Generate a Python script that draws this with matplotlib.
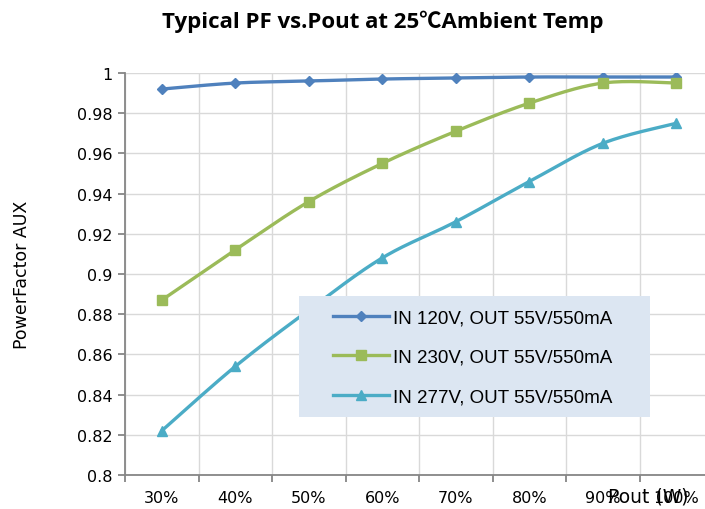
import numpy as np
import matplotlib
matplotlib.use("Agg")
import matplotlib.pyplot as plt
from matplotlib.lines import Line2D
from matplotlib.patches import Rectangle

categories = ["30%", "40%", "50%", "60%", "70%", "80%", "90%", "100%"]
pf_120 = [0.992, 0.995, 0.996, 0.997, 0.9975, 0.998, 0.998, 0.998]
pf_230 = [0.887, 0.912, 0.936, 0.955, 0.971, 0.985, 0.995, 0.995]
pf_277 = [0.822, 0.854, 0.882, 0.908, 0.926, 0.946, 0.965, 0.975]
labels = ["IN 120V, OUT 55V/550mA", "IN 230V, OUT 55V/550mA", "IN 277V, OUT 55V/550mA"]
colors = ["#4F81BD", "#9BBB59", "#4BACC6"]
markers = ["D", "s", "^"]
msizes = [5, 7, 7]


def smooth(x, y, n=30, t=0.5):
    x = np.asarray(x, float); y = np.asarray(y, float)
    px = np.concatenate([[x[0]], x, [x[-1]]])
    py = np.concatenate([[y[0]], y, [y[-1]]])
    xs, ys = [], []
    for i in range(1, len(px) - 2):
        p0, p1, p2, p3 = [np.array([px[j], py[j]]) for j in (i - 1, i, i + 1, i + 2)]
        c1 = p1 + (p2 - p0) * t / 3
        c2 = p2 - (p3 - p1) * t / 3
        s = np.linspace(0, 1, n)[:, None]
        b = (1 - s) ** 3 * p1 + 3 * (1 - s) ** 2 * s * c1 + 3 * (1 - s) * s ** 2 * c2 + s ** 3 * p2
        xs.append(b[:, 0]); ys.append(b[:, 1])
    return np.concatenate(xs), np.concatenate(ys)


fig = plt.figure(figsize=(7.05, 5.1), dpi=100)
ax_w = 713 - 125
ax_h = 476 - 74
ax = fig.add_axes([125 / 705, 1 - 476 / 510, ax_w / 705, ax_h / 510])

x = np.arange(len(categories))
handles = []
for data, c, m, ms, lab in zip([pf_120, pf_230, pf_277], colors, markers, msizes, labels):
    sx, sy = smooth(x, data)
    ax.plot(sx, sy, color=c, lw=2.4, zorder=3, solid_capstyle="round")
    ax.plot(x, data, ls="none", marker=m, color=c, ms=ms, zorder=4)
    handles.append(Line2D([0], [0], color=c, lw=2.4, marker=m, ms=ms, label=lab))

ax.set_xlim(-0.5, len(categories) - 0.5)
ax.set_ylim(0.8, 1.0)
ax.set_yticks(np.arange(0.8, 1.0001, 0.02))
ax.set_yticklabels(["0.8", "0.82", "0.84", "0.86", "0.88", "0.9", "0.92", "0.94", "0.96", "0.98", "1"],
                   fontsize=11.5, family="DejaVu Sans")
ax.set_xticks(x)
ax.set_xticklabels(categories, fontsize=11.5, family="DejaVu Sans")
ax.set_xticks(np.arange(-0.5, len(categories) + 0.5, 1), minor=True)
ax.tick_params(axis="x", which="major", length=0, pad=11)
ax.tick_params(axis="x", which="minor", length=5, color="#868686", width=1.3)
ax.tick_params(axis="y", length=5, color="#868686", width=1.3, pad=4)
ax.grid(True, axis="y", color="#D9D9D9", lw=1)
ax.grid(True, axis="x", which="minor", color="#D9D9D9", lw=1)
ax.set_axisbelow(True)
for s in ["top", "right"]:
    ax.spines[s].set_visible(False)
for s in ["left", "bottom"]:
    ax.spines[s].set_color("#868686")
    ax.spines[s].set_linewidth(1.3)

fig.text(22 / 705, 1 - 275 / 510, "PowerFactor AUX", rotation=90, ha="center", va="center", fontsize=12.5)
fig.text(648 / 705, 1 - 497 / 510, "Pout (W)", ha="center", va="center", fontsize=13.5)
fig.text(383 / 705, 1 - 22 / 510, "Typical PF vs.Pout at 25℃Ambient Temp", ha="center", va="center",
         fontsize=16, fontweight="bold", family=["Open Sans", "Noto Sans CJK SC", "DejaVu Sans"])

# legend background box
bx0 = (299 - 125) / ax_w
bx1 = (650 - 125) / ax_w
by_top = 1 - (297 - 74) / ax_h
by_bot = 1 - (418 - 74) / ax_h
ax.add_patch(Rectangle((bx0, by_bot), bx1 - bx0, by_top - by_bot, transform=ax.transAxes,
                       facecolor="#DCE6F2", edgecolor="none", zorder=5))

lx0 = (333 - 125) / ax_w
leg = ax.legend(handles=handles, loc="center left",
                bbox_to_anchor=(lx0, (by_bot + by_top) / 2 - 0.002),
                frameon=False, prop={"family": "Liberation Sans", "size": 13.5},
                labelspacing=1.2, handlelength=3.0, handletextpad=0.2, borderpad=0,
                borderaxespad=0)
leg.set_zorder(6)

fig.savefig("out.png", dpi=100)
